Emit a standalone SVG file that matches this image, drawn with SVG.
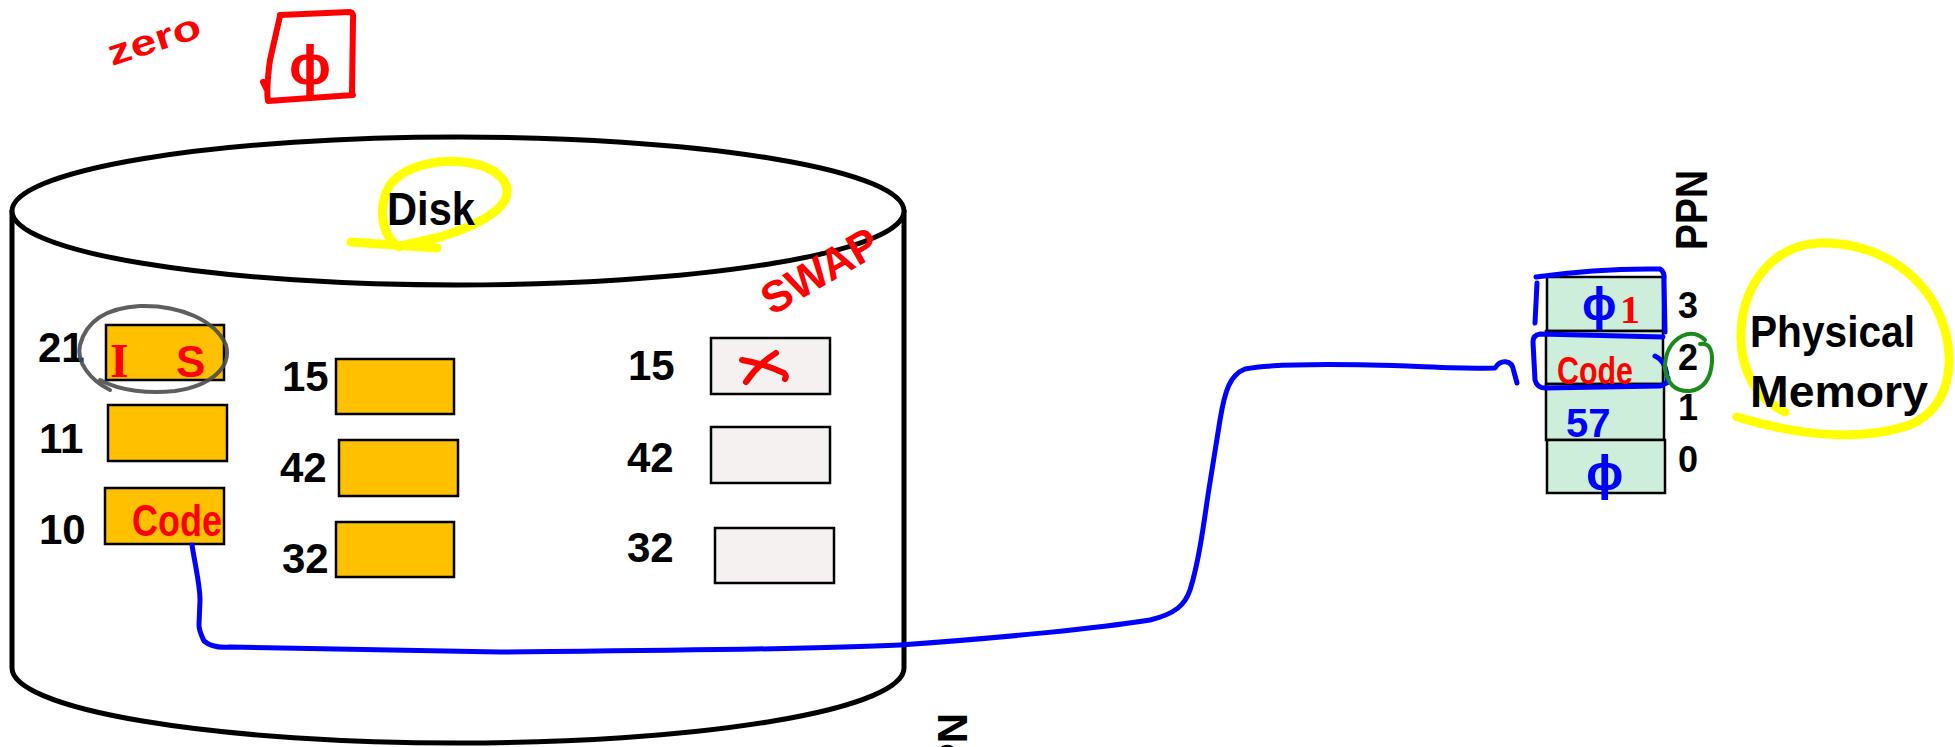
<svg xmlns="http://www.w3.org/2000/svg" width="1955" height="747" viewBox="0 0 1955 747">
<style>
.num{font-family:"Liberation Sans",Arial,sans-serif;font-weight:bold;fill:#000}
.big{font-size:42px}
.mid{font-size:36px}
.dbox{fill:#FFC000;stroke:#000;stroke-width:2.5}
.sbox{fill:#F4F1F0;stroke:#000;stroke-width:2.5}
.mbox{fill:#CCEEDA;stroke:#000;stroke-width:2.5}
.ink{fill:none;stroke-linecap:round;stroke-linejoin:round}
.red{stroke:#FF0000;stroke-width:6}
.blue{stroke:#0000FF;stroke-width:5}
.yel{stroke:#FFFF00;stroke-width:9}
.hr{fill:#FF0000;font-family:"Liberation Sans",Arial,sans-serif;font-weight:bold}
.hb{fill:#0000FF;font-family:"Liberation Sans",Arial,sans-serif;font-weight:bold}
</style>
<rect width="1955" height="747" fill="#fff"/>

<g id="disk">
  <path d="M12,210 L12,668 A446,75 0 0 0 904,668 L904,210" fill="#fff" stroke="#000" stroke-width="5"/>
  <ellipse cx="458" cy="211" rx="446" ry="74" fill="#fff" stroke="#000" stroke-width="5"/>
  <path class="ink yel" d="M351,242 L437,248 M399,247 C380,235 378,205 390,185 C405,165 440,158 470,163 C500,168 512,185 505,200 C497,215 470,228 440,237 L405,245"/>
  <text class="num" x="387" y="225" font-size="46" textLength="88" lengthAdjust="spacingAndGlyphs">Disk</text>
</g>

<g id="disk-blocks">
  <text class="num big" x="38" y="362">21</text>
  <rect class="dbox" x="106" y="325" width="118" height="55"/>
  <text class="num big" x="39" y="453">11</text>
  <rect class="dbox" x="108" y="405" width="119" height="56"/>
  <text class="num big" x="39" y="544">10</text>
  <rect class="dbox" x="105" y="488" width="119" height="56"/>
  <text class="num big" x="282" y="391">15</text>
  <rect class="dbox" x="336" y="359" width="118" height="55"/>
  <text class="num big" x="280" y="482">42</text>
  <rect class="dbox" x="339" y="440" width="119" height="56"/>
  <text class="num big" x="282" y="573">32</text>
  <rect class="dbox" x="336" y="522" width="118" height="55"/>
</g>

<g id="swap-blocks">
  <text class="num big" x="628" y="380">15</text>
  <rect class="sbox" x="711" y="338" width="119" height="56"/>
  <text class="num big" x="627" y="472">42</text>
  <rect class="sbox" x="711" y="427" width="119" height="56"/>
  <text class="num big" x="627" y="562">32</text>
  <rect class="sbox" x="715" y="528" width="119" height="55"/>
  <path class="ink red" d="M742,360 Q765,364 784,373 Q787,376 785,379 M776,353 Q758,364 746,382"/>
  <text class="hr" x="0" y="0" font-size="44" transform="translate(772,316) rotate(-30)" textLength="128" lengthAdjust="spacingAndGlyphs">SWAP</text>
</g>

<g id="disk-notes">
  <text x="110" y="377" font-family="Liberation Serif,serif" font-weight="bold" font-size="48" fill="#FF0000">I</text>
  <text class="hr" x="176" y="377" font-size="44">S</text>
  <path class="ink" stroke="#4D4D4D" stroke-opacity="0.9" stroke-width="4" d="M110,390 C90,380 76,362 80,345 C86,322 105,308 140,306 C180,305 215,320 226,345 C232,368 210,386 175,391 C150,394 120,391 100,380"/>
  <text class="hr" x="132" y="536" font-size="44" textLength="90" lengthAdjust="spacingAndGlyphs">Code</text>
</g>

<g id="zero-note">
  <text class="hr" x="0" y="0" font-size="36" transform="translate(112,66) rotate(-18)" textLength="96" lengthAdjust="spacingAndGlyphs">zero</text>
  <path class="ink red" d="M280,15 L350,12 Q354,13 353,20 L352,93 M353,95 L268,101 Q266,90 270,60 L280,16 M263,82 L267,90"/>
  <text class="hr" x="310" y="84" font-size="56" text-anchor="middle">ϕ</text>
</g>

<g id="memory">
  <rect class="mbox" x="1547" y="277" width="116" height="54"/>
  <rect class="mbox" x="1546" y="331" width="117" height="53"/>
  <rect class="mbox" x="1546" y="384" width="118" height="56"/>
  <rect class="mbox" x="1547" y="440" width="118" height="53"/>
  <text class="num mid" x="1678" y="318">3</text>
  <text class="num mid" x="1678" y="370">2</text>
  <text class="num mid" x="1678" y="420">1</text>
  <text class="num mid" x="1678" y="472">0</text>
  <text class="num" font-size="44" transform="translate(1707,170) rotate(-90)" text-anchor="end" textLength="80" lengthAdjust="spacingAndGlyphs">PPN</text>
  <text class="hb" x="1582" y="320" font-size="46">ϕ</text>
  <text x="1620" y="323" font-family="Liberation Serif,serif" font-weight="bold" font-size="40" fill="#FF0000">1</text>
  <text class="hr" x="1557" y="384" font-size="38" textLength="76" lengthAdjust="spacingAndGlyphs">Code</text>
  <text class="hb" x="1566" y="437" font-size="40">57</text>
  <text class="hb" x="1586" y="490" font-size="50">ϕ</text>
  <path class="ink blue" d="M1535,323 L1537,283 M1536,277 Q1600,268 1660,269 Q1665,272 1664,280 L1665,332"/>
  <path class="ink blue" d="M1663,337 L1540,334 Q1533,335 1533,342 L1535,380 Q1537,388 1545,388 L1660,386 Q1668,384 1668,378 M1655,356 Q1668,362 1667,383"/>
  <path class="ink" stroke="#1A8A1A" stroke-width="4" d="M1705,340 Q1695,330 1682,336 Q1665,345 1665,368 Q1668,392 1690,391 Q1710,388 1712,362 Q1713,342 1700,344"/>
</g>

<g id="physical-memory">
  <path class="ink yel" d="M1737,417 C1780,430 1850,445 1910,425 C1955,405 1958,350 1935,305 C1910,262 1865,242 1820,243 C1775,245 1748,280 1742,320 C1737,360 1750,395 1785,412"/>
  <text class="num" x="1750" y="347" font-size="45" textLength="165" lengthAdjust="spacingAndGlyphs">Physical</text>
  <text class="num" x="1750" y="407" font-size="45" textLength="178" lengthAdjust="spacingAndGlyphs">Memory</text>
</g>

<g id="vpn-label">
  <text class="num big" transform="translate(967,713) rotate(-90)" text-anchor="end">VPN</text>
</g>

<g id="connectors">
  <path class="ink blue" stroke-width="6" d="M192,545 C196,570 200,585 200,600 L199,625 C199,632 203,638 204,641 C210,646 220,648 230,647 C330,648 420,650 500,652 C600,651 800,650 900,645 C1000,638 1100,628 1150,620 C1175,614 1185,605 1190,590 C1198,565 1203,530 1208,495 L1220,420 C1225,390 1230,375 1245,369 C1270,364 1320,364 1370,365 C1420,366 1460,369 1495,368 C1500,360 1512,358 1514,372 L1517,383"/>
</g>
</svg>
